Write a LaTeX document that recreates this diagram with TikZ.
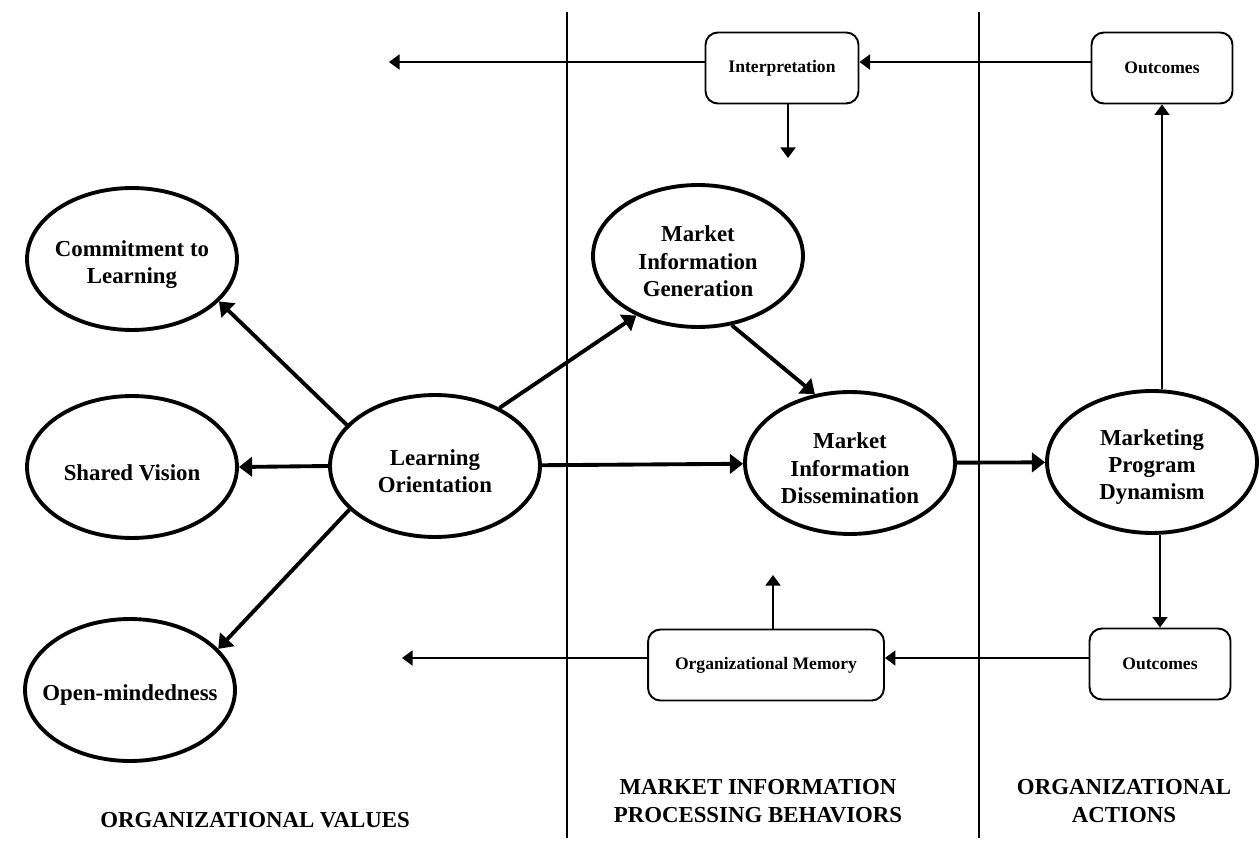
\documentclass[tikz,border=0pt]{standalone}
\usepackage{fontspec}
\setmainfont{Liberation Serif}
\usetikzlibrary{arrows.meta, positioning, shapes.geometric}

\begin{document}
\begin{tikzpicture}[
    x=0.02cm, y=-0.02cm,
    oval/.style={ellipse, draw=black, line width=2.2pt, minimum width=4.2cm, minimum height=2.84cm, inner sep=0pt},
    ovaltext/.style={font=\fontsize{13}{15.5}\selectfont\bfseries, align=center, yshift=-3pt},
    roundbox/.style={rectangle, rounded corners=7pt, draw=black, line width=1.1pt, minimum height=1.42cm, font=\fontsize{10}{12}\selectfont\bfseries},
    heading/.style={font=\fontsize{13}{15.5}\selectfont\bfseries, align=center},
    thickarrow/.style={-{Triangle[length=7.5pt, width=11pt]}, line width=2.2pt},
    thinarrow/.style={-{Triangle[length=6pt, width=8.5pt]}, line width=1.1pt},
    divider/.style={line width=0.8pt},
    ]

    \path[fill=white] (0,0) rectangle (1260,864);

    % section dividers
    \draw[divider] (567,12) -- (567,838);
    \draw[divider] (979,12) -- (979,838);

    % organizational values
    \node[oval, label={[ovaltext]center:{Commitment to\\Learning}}]   (commit)  at (132,259) {};
    \node[oval, label={[ovaltext]center:Shared Vision}]               (vision)  at (132,467) {};
    \node[oval, label={[ovaltext]center:Open-mindedness}]             (open)    at (130,690) {};
    \node[oval, label={[ovaltext]center:{Learning\\Orientation}}]     (lo)      at (435,466) {};

    % market information processing
    \node[oval, label={[ovaltext]center:{Market\\Information\\Generation}}]    (mig) at (698,256) {};
    \node[oval, label={[ovaltext]center:{Market\\Information\\Dissemination}}] (mid) at (850,463) {};

    % organizational actions
    \node[oval, label={[ovaltext]center:{Marketing\\Program\\Dynamism}}]       (mpd) at (1152,462) {};

    % feedback boxes
    \node[roundbox, minimum width=3.06cm] (interp) at (782,68)  {Interpretation};
    \node[roundbox, minimum width=2.82cm] (outtop) at (1162,68) {Outcomes};
    \node[roundbox, minimum width=4.72cm] (orgmem) at (766,665) {Organizational Memory};
    \node[roundbox, minimum width=2.82cm] (outbot) at (1160,664) {Outcomes};

    \coordinate (interpleft) at (389,62);
    \coordinate (interpdown) at (788,158);
    \coordinate (memleft)    at (402,658);
    \coordinate (memup)      at (773,575);

    % headings
    \node[heading] (values)    at (255,820)  {ORGANIZATIONAL VALUES};
    \node[heading] (behaviors) at (758,801)  {MARKET INFORMATION\\PROCESSING BEHAVIORS};
    \node[heading] (actions)   at (1124,801) {ORGANIZATIONAL\\ACTIONS};

    % main paths
    \draw[thickarrow] (lo.155) -- (commit.-26);
    \draw[thickarrow] (lo.west) -- (vision.east);
    \draw[thickarrow] (lo.207) -- (open.25);
    \draw[thickarrow] (lo.42) -- (mig.224);
    \draw[thickarrow] (lo) -- (mid);
    \draw[thickarrow] (mig.-64) -- (mid.117);
    \draw[thickarrow] (mid) -- (mpd);

    % feedback loops
    \draw[thinarrow] (outtop.south |- mpd.north) -- (outtop.south);
    \draw[thinarrow] (outtop.west |- interpleft) -- (interp.east |- interpleft);
    \draw[thinarrow] (interp.west |- interpleft) -- (interpleft);
    \draw[thinarrow] (interpdown |- interp.south) -- (interpdown);

    \draw[thinarrow] (outbot.north |- mpd.south) -- (outbot.north);
    \draw[thinarrow] (outbot.west |- memleft) -- (orgmem.east |- memleft);
    \draw[thinarrow] (orgmem.west |- memleft) -- (memleft);
    \draw[thinarrow] (memup |- orgmem.north) -- (memup);

\end{tikzpicture}
\end{document}
